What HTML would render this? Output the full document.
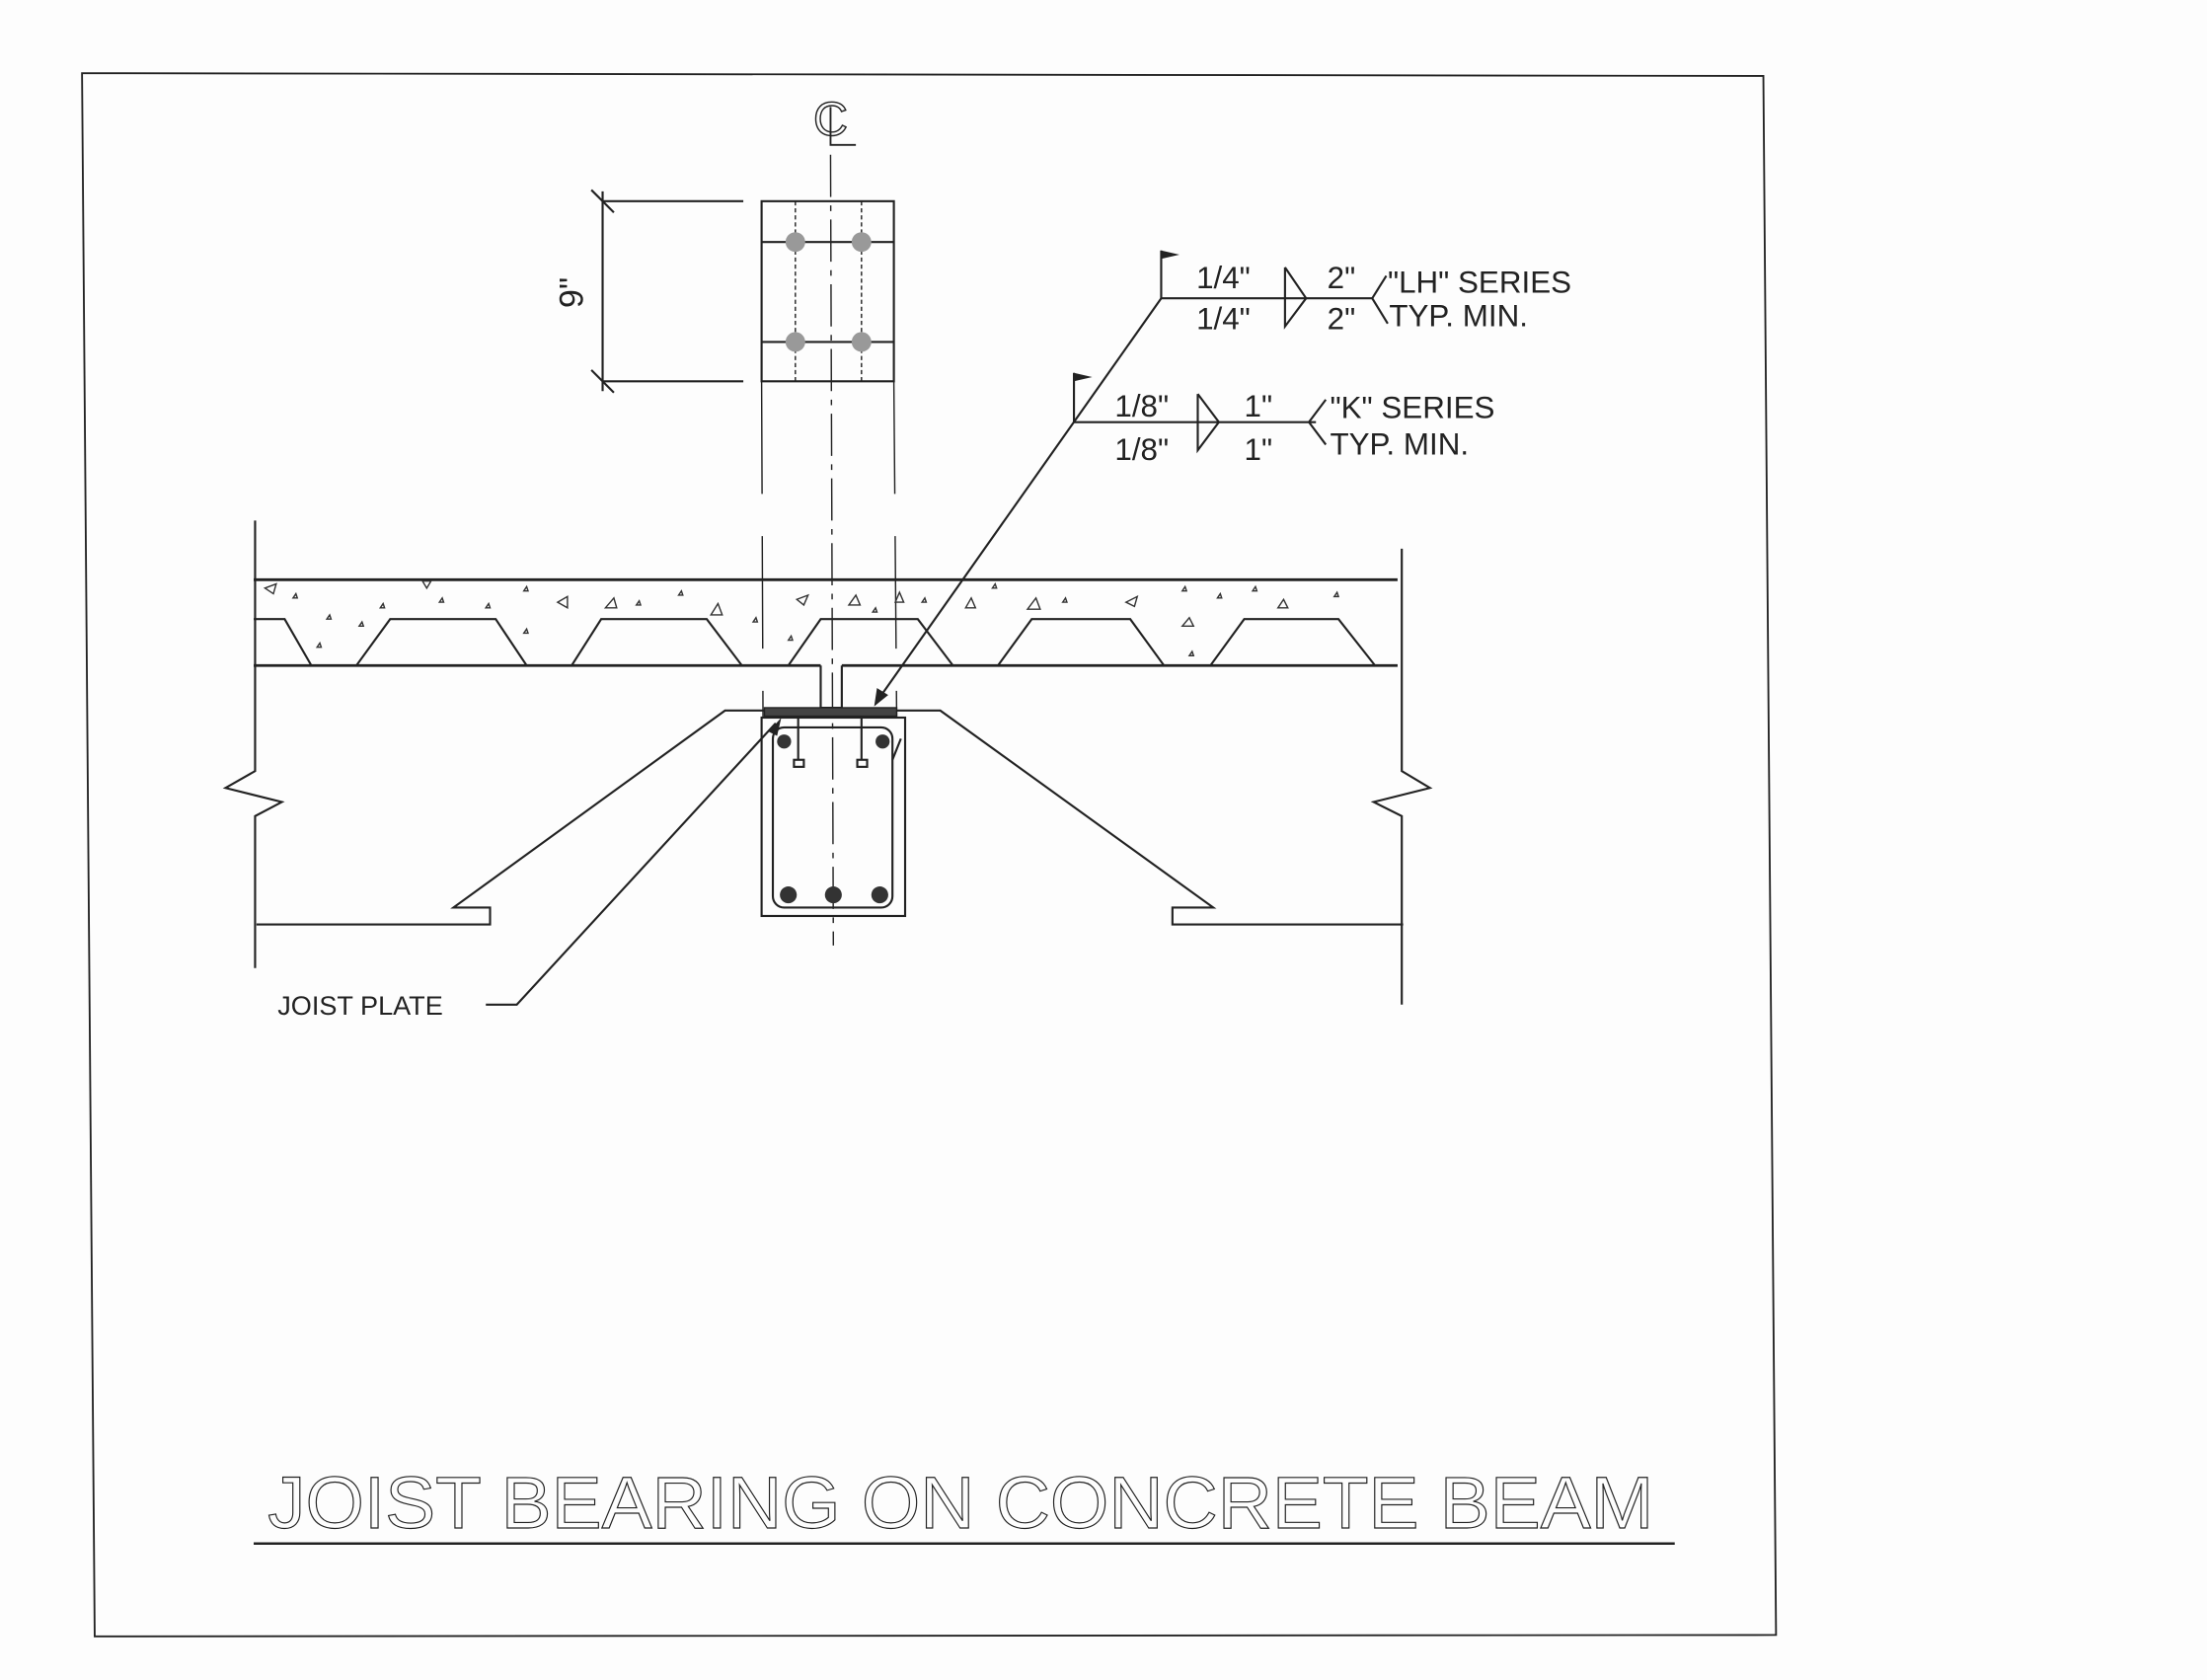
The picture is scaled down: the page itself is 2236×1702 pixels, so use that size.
<!DOCTYPE html>
<html><head><meta charset="utf-8"><style>
html,body{margin:0;padding:0;background:#fdfdfd;}
svg{display:block;}
text{font-family:"Liberation Sans",sans-serif;fill:#222;}
</style></head><body>
<svg width="2236" height="1702" viewBox="0 0 1568 1194" xmlns="http://www.w3.org/2000/svg">
<rect width="1568" height="1194" fill="#fdfdfd"/>
<g fill="none" stroke="#222" stroke-width="1.5">
<polygon points="58,52 1253,54 1262,1162 67,1163" stroke-width="1.3"/>
<line x1="590" y1="110" x2="592" y2="672" stroke-width="1" stroke-dasharray="30,6,4,6"/>
<polyline points="590,76 590,103 608,103" stroke-width="1.3"/>
<rect x="541" y="143" width="94" height="128"/>
<line x1="541" y1="172" x2="635" y2="172"/>
<line x1="541" y1="243" x2="635" y2="243"/>
<line x1="565" y1="143" x2="565" y2="271" stroke-width="1" stroke-dasharray="3,2"/>
<line x1="612" y1="143" x2="612" y2="271" stroke-width="1" stroke-dasharray="3,2"/>
<line x1="428" y1="143" x2="528" y2="143"/>
<line x1="428" y1="271" x2="528" y2="271"/>
<line x1="428" y1="136" x2="428" y2="278"/>
<line x1="420" y1="135" x2="436" y2="151"/>
<line x1="420" y1="263" x2="436" y2="279"/>
<line x1="541" y1="271" x2="542" y2="510" stroke-width="1" stroke-dasharray="80,30"/>
<line x1="635" y1="271" x2="637" y2="510" stroke-width="1" stroke-dasharray="80,30"/>
<line x1="180" y1="412" x2="993" y2="412" stroke-width="2"/>
<line x1="180" y1="473" x2="583" y2="473" stroke-width="2"/>
<line x1="598" y1="473" x2="993" y2="473" stroke-width="2"/>
<polyline points="180,440 202,440 221,473 253,473 277,440 352,440 374,473 406,473 427,440 502,440 527,473 560,473 583,440 652,440 677,473 709,473 733,440 803,440 827,473 860,473 884,440 951,440 977,473 993,473"/>
<polyline points="583,473 583,503 598,503 598,473"/>
<rect x="543" y="503" width="94" height="6" fill="#444" stroke-width="1"/>
<rect x="541" y="510" width="102" height="141"/>
<rect x="549" y="517" width="85" height="128" rx="8"/>
<line x1="567" y1="510" x2="567" y2="540"/>
<line x1="612" y1="510" x2="612" y2="540"/>
<rect x="564" y="540" width="7" height="5"/>
<rect x="609" y="540" width="7" height="5"/>
<line x1="640" y1="525" x2="634" y2="540"/>
<polyline points="543,505 515,505 322,645 348,645 348,657 182,657"/>
<polyline points="637,505 668,505 862,645 833,645 833,657 997,657"/>
<polyline points="181,370 181,548 160,560 200,570 181,580 181,688"/>
<polyline points="996,390 996,548 1016,560 976,570 996,580 996,714"/>
<polyline points="825,178 825,212 975,212"/>
<polyline points="763,265 763,300 935,300"/>
<line x1="825" y1="212" x2="624" y2="497"/>
<polyline points="913,190 928,212 913,232 913,190"/>
<polyline points="851,280 866,300 851,320 851,280"/>
<polyline points="985,196 975,212 986,230"/>
<polyline points="942,284 930,300 942,316"/>
<polyline points="345,714 367,714 551,514"/>
</g>
<g fill="#222">
<polygon points="825,178 838,181 825,184"/>
<polygon points="763,265 776,268 763,271"/>
<polygon points="621,502 623,489 631,494"/>
<polygon points="555,510 546,520 552,523"/>
<circle cx="565" cy="172" r="7" fill="#999"/><circle cx="612" cy="172" r="7" fill="#999"/>
<circle cx="565" cy="243" r="7" fill="#999"/><circle cx="612" cy="243" r="7" fill="#999"/>
<circle cx="557" cy="527" r="5" fill="#333"/><circle cx="627" cy="527" r="5" fill="#333"/>
<circle cx="560" cy="636" r="6" fill="#333"/><circle cx="592" cy="636" r="6" fill="#333"/><circle cx="625" cy="636" r="6" fill="#333"/>
</g>
<g fill="none" stroke="#333" stroke-width="1">
<path d="M188,418 l8,-3 -2,7z M300,413 l6,0 -3,5z M396,428 l7,-4 0,8z M430,432 l6,-7 2,7z M505,437 l5,-8 3,8z M566,426 l8,-3 -3,7z M603,430 l5,-7 3,7z M636,428 l3,-7 3,7z M686,432 l4,-7 3,7z M730,433 l6,-8 3,8z M800,428 l8,-4 -2,7z M840,445 l5,-6 3,6z M908,432 l4,-6 3,6z"/>
<path d="M208,425 l2,-3 1,3z M232,440 l2,-3 1,3z M255,445 l2,-3 1,3z M270,432 l2,-3 1,3z M312,428 l2,-3 1,3z M345,432 l2,-3 1,3z M372,420 l2,-3 1,3z M452,430 l2,-3 1,3z M482,423 l2,-3 1,3z M535,442 l2,-3 1,3z M560,455 l2,-3 1,3z M620,435 l2,-3 1,3z M655,428 l2,-3 1,3z M705,418 l2,-3 1,3z M755,428 l2,-3 1,3z M840,420 l2,-3 1,3z M865,425 l2,-3 1,3z M890,420 l2,-3 1,3z M948,424 l2,-3 1,3z M845,466 l2,-3 1,3z M225,460 l2,-3 1,3z M372,450 l2,-3 1,3z"/>
</g>
<text x="590" y="96" font-size="34" text-anchor="middle" style="fill:none;stroke:#222;stroke-width:1">C</text>
<text transform="translate(414,208) rotate(-90)" font-size="24" text-anchor="middle">9"</text>
<g font-size="22">
<text x="850" y="205">1/4"</text>
<text x="850" y="234">1/4"</text>
<text x="943" y="205">2"</text>
<text x="943" y="234">2"</text>
<text x="986" y="208">"LH" SERIES</text>
<text x="987" y="232">TYP. MIN.</text>
<text x="792" y="296">1/8"</text>
<text x="792" y="327">1/8"</text>
<text x="884" y="296">1"</text>
<text x="884" y="327">1"</text>
<text x="945" y="297">"K" SERIES</text>
<text x="945" y="323">TYP. MIN.</text>
</g>
<text x="197" y="721" font-size="19">JOIST PLATE</text>
<text x="190" y="1086" font-size="52" textLength="985" lengthAdjust="spacingAndGlyphs" style="fill:none;stroke:#222;stroke-width:0.8">JOIST BEARING ON CONCRETE BEAM</text>
<line x1="180" y1="1097" x2="1190" y2="1097" stroke="#222" stroke-width="1.8"/>
</svg>
</body></html>
